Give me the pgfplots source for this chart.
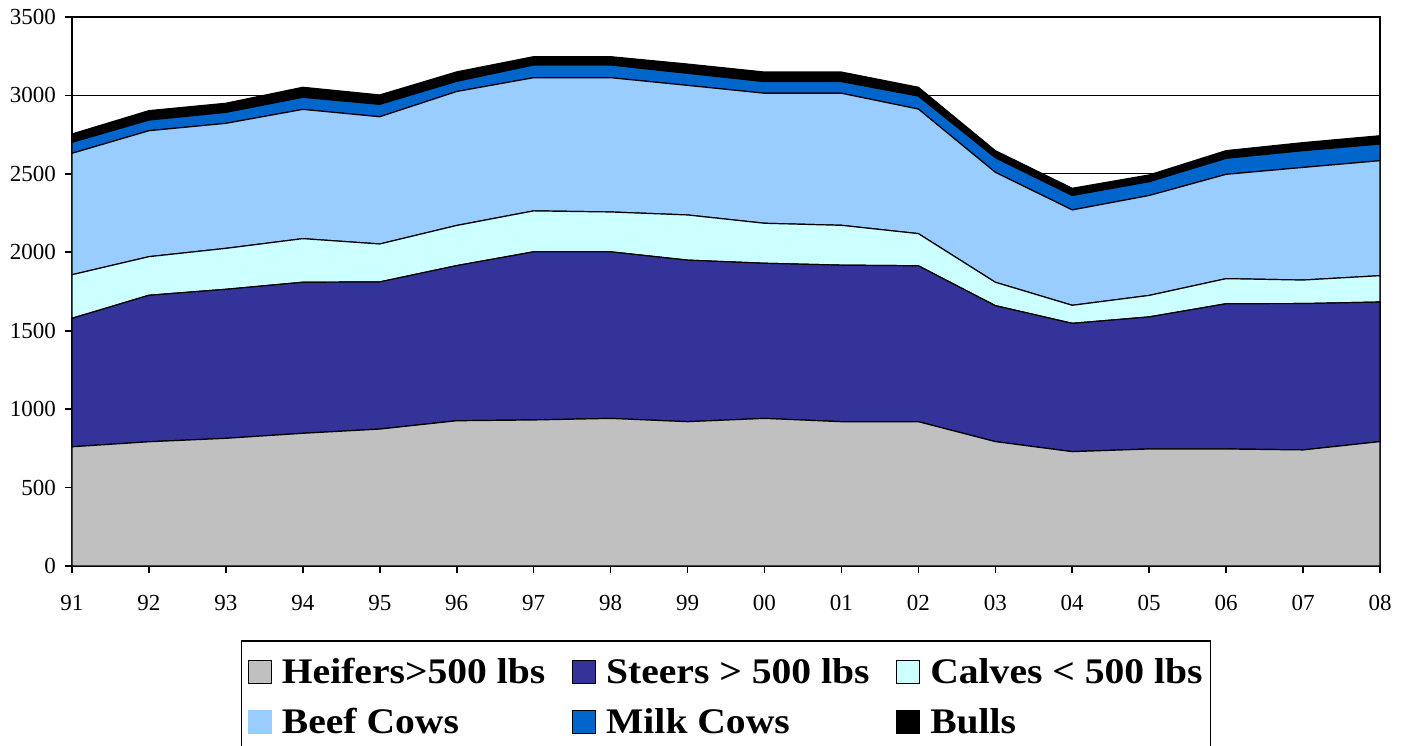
\documentclass[border=0pt]{standalone}
\usepackage{pgfplots}
\pgfplotsset{compat=1.18}
\usepackage{pgfplotstable}
\usepackage{fontspec}
\setmainfont{Liberation Serif}
\newfontfamily\legfont{Liberation Serif}[FakeStretch=1.1]
\definecolor{cHeif}{HTML}{C0C0C0}
\definecolor{cSteer}{HTML}{333399}
\definecolor{cCalf}{HTML}{CCFFFF}
\definecolor{cBeef}{HTML}{99CCFF}
\definecolor{cMilk}{HTML}{0066CC}
\definecolor{cBull}{HTML}{000000}
\newcommand{\legent}[1]{\makebox[136bp][l]{#1}}

\pgfplotstableread{
x heif steer calf beef milk bull
0 760 819 278 774 70 53
1 792 934 246 803 68 60
2 814 950 261 797 70 58
3 846 963 278 824 77 64
4 873 938 242 811 79 60
5 926 989 256 854 65 60
6 931 1072 261 849 81 53
7 941 1062 254 856 81 53
8 920 1030 288 826 77 59
9 941 989 255 829 74 61
10 920 998 254 842 74 61
11 920 994 205 794 83 56
12 793 867 149 701 93 45
13 729 818 115 608 92 46
14 746 842 137 637 88 43
15 746 926 160 665 102 49
16 740 933 150 718 107 51
17 793 890 168 733 106 53
}\datatable

\begin{document}
\begin{tikzpicture}
\begin{axis}[
  scale only axis, width=654bp, height=274.5bp,
  xmin=0, xmax=17, ymin=0, ymax=3500,
  ytick={0,500,...,3500},
  xtick={0,...,17},
  xticklabels={91,92,93,94,95,96,97,98,99,00,01,02,03,04,05,06,07,08},
  stack plots=y,
  ymajorgrids, grid style={black, line width=0.6bp},
  axis line style={black, line width=0.8bp},
  tick style={black, line width=0.8bp},
  tick align=outside, major tick length=3.5bp,
  xtick pos=left, ytick pos=left,
  ticklabel style={font=\fontsize{11.5bp}{13bp}\selectfont},
  xticklabel style={yshift=-7.5bp},
  yticklabel style={xshift=-1bp},
  /pgf/number format/assume math mode=true,
  /pgf/number format/1000 sep={},
  legend columns=3,
  legend cell align=left,
  legend style={
    at={(0.5,0)}, anchor=north, yshift=-37bp,
    draw=black, line width=0.8bp, inner xsep=3bp, inner ysep=3bp,
    font=\legfont\bfseries\fontsize{18bp}{21bp}\selectfont,
    nodes={inner xsep=1bp, inner ysep=4.5bp, text height=13.75bp, text depth=2.25bp},
    /tikz/every odd column/.append style={column sep=4bp},
    /tikz/every even column/.append style={column sep=8bp},
  },
  legend image code/.code={\draw[#1,draw=black,line width=0.6bp] (0bp,-5.75bp) rectangle (11.5bp,5.75bp);},
]
\coordinate (sw) at (rel axis cs:0,0);
\addplot[fill=cHeif, draw=black, line width=0.6bp] table[x=x,y=heif]{\datatable} \closedcycle;
\addlegendentry{\legent{Heifers>500 lbs}}
\addplot[fill=cSteer, draw=black, line width=0.6bp] table[x=x,y=steer]{\datatable} \closedcycle;
\addlegendentry{\legent{Steers > 500 lbs}}
\addplot[fill=cCalf, draw=black, line width=0.6bp] table[x=x,y=calf]{\datatable} \closedcycle;
\addlegendentry{\legent{Calves < 500 lbs}}
\addplot[fill=cBeef, draw=black, line width=0.6bp,
  legend image code/.code={\fill[cBeef] (0bp,-5.75bp) rectangle (11.5bp,5.75bp);}] table[x=x,y=beef]{\datatable} \closedcycle;
\addlegendentry{\legent{Beef Cows}}
\addplot[fill=cMilk, draw=black, line width=0.6bp] table[x=x,y=milk]{\datatable} \closedcycle;
\addlegendentry{\legent{Milk Cows}}
\addplot[fill=cBull, draw=black, line width=0.6bp] table[x=x,y=bull]{\datatable} \closedcycle;
\addlegendentry{\legent{Bulls}}
\end{axis}
\pgfresetboundingbox
\path ([shift={(-36bp,-90bp)}]sw) rectangle ([shift={(668bp,283bp)}]sw);
\end{tikzpicture}
\end{document}
